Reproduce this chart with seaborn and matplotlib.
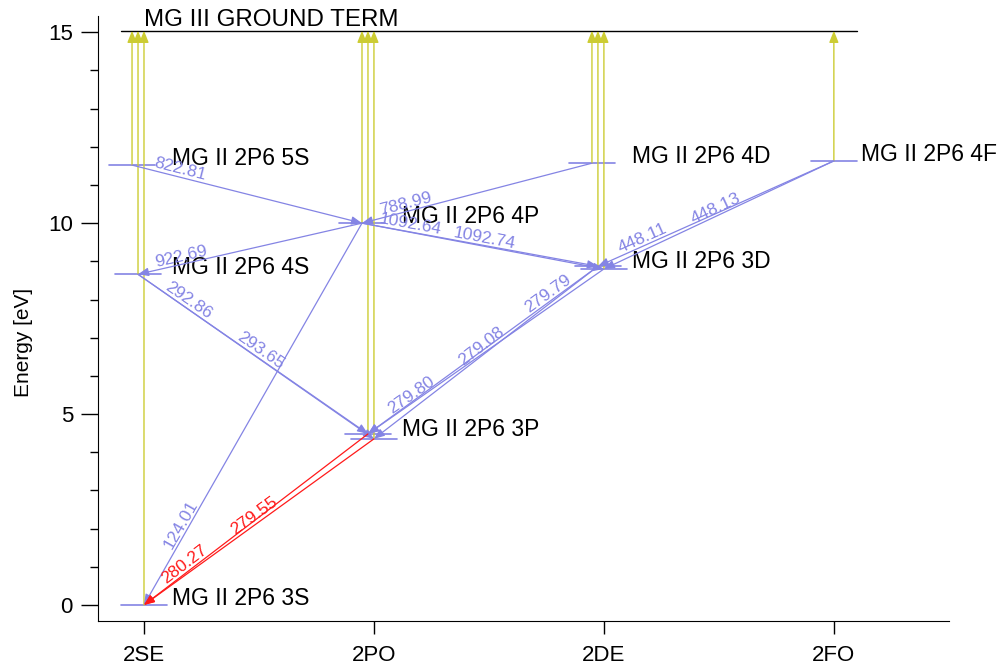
import numpy as np
import pandas as pd
import matplotlib
matplotlib.use("Agg")
import matplotlib.pyplot as plt
from matplotlib.ticker import MultipleLocator
import seaborn as sns

# Term columns of the Mg II Grotrian diagram
terms = ["2SE", "2PO", "2DE", "2FO"]

# Levels: term column, configuration and energy (eV)
level_term = ["2SE", "2SE", "2SE", "2PO", "2PO", "2PO", "2DE", "2DE", "2DE", "2FO"]
level_config = ["3S", "4S", "5S", "3P", "3P", "4P", "3D", "3D", "4D", "4F"]
level_energy = [0.00, 8.66, 11.52, 4.35, 4.48, 10.00, 8.80, 8.87, 11.57, 11.63]

# Ionisation limit (Mg III ground term)
ion_energy = 15.04
ion_label = "MG III GROUND TERM"

# Radiative transitions: upper level index, lower level index, wavelength (nm)
trans_upper = [2, 8, 5, 5, 5, 1, 1, 5, 4, 3, 6, 7, 7, 9, 9]
trans_lower = [5, 5, 7, 6, 1, 4, 3, 0, 0, 0, 4, 3, 4, 7, 6]
trans_wave = ["822.81", "788.99", "1092.64", "1092.74", "922.69",
              "292.86", "293.65", "124.01", "280.27", "279.55",
              "279.80", "279.08", "279.79", "448.11", "448.13"]
# Resonance lines shown in red
trans_resonance = [False, False, False, False, False, False, False, False,
                   True, True, False, False, False, False, False]

BLUE = "#8484e4"
RED = "#ff1a1a"
YELLOW = "#cccc33"

sns.set_style("ticks", {"axes.edgecolor": "black", "text.color": "black",
                        "axes.labelcolor": "black", "xtick.color": "black",
                        "ytick.color": "black"})
plt.rcParams["font.family"] = ["Liberation Sans", "DejaVu Sans"]

fig = plt.figure(figsize=(10.01, 6.72), dpi=100)
ax = fig.add_axes([0.0979, 0.0759, 0.850, 0.900])
ax.set_xlim(-0.2, 3.5)
ax.set_ylim(-0.42, 15.42)

# Sublevels sharing a column are staggered slightly to the left
col_index = [terms.index(t) for t in level_term]
rank = []
seen = {}
for c in col_index:
    rank.append(seen.get(c, 0))
    seen[c] = seen.get(c, 0) + 1
level_x = [c - 0.026 * r for c, r in zip(col_index, rank)]

half = 0.1
lv = pd.DataFrame({
    "x": [x + s for x in level_x for s in (-half, half)],
    "E": [e for e in level_energy for _ in (0, 1)],
    "lvl": [i for i in range(len(level_energy)) for _ in (0, 1)],
})
sns.lineplot(data=lv, x="x", y="E", units="lvl", estimator=None, sort=False,
             color=BLUE, lw=1.2, ax=ax, legend=False)

# Ionisation limit line and label
ax.plot([-half, len(terms) - 1 + half], [ion_energy, ion_energy], color="black", lw=1.0)
ax.text(0, ion_energy, ion_label, ha="left", va="bottom", fontsize=17.4)

# Ionisation arrows from every level up to the limit
for x, e in zip(level_x, level_energy):
    ax.annotate("", xy=(x, ion_energy), xytext=(x, e),
                arrowprops=dict(arrowstyle="-|>,head_length=0.5,head_width=0.2",
                                color=YELLOW, lw=1.0, shrinkA=0, shrinkB=0,
                                mutation_scale=14))

# Level labels (one per configuration)
done = set()
for i, (t, cfg) in enumerate(zip(level_term, level_config)):
    key = (t, cfg)
    if key in done:
        continue
    done.add(key)
    es = [level_energy[j] for j in range(len(level_energy))
          if level_term[j] == t and level_config[j] == cfg]
    ax.text(terms.index(t) + 0.12, float(np.mean(es)), f"MG II 2P6 {cfg}",
            ha="left", va="baseline", fontsize=16.5)

# Transition arrows with wavelength labels along each line
group_count = {}
for u, l, w, res in zip(trans_upper, trans_lower, trans_wave, trans_resonance):
    c = RED if res else BLUE
    xu, eu = level_x[u], level_energy[u]
    xl, el = level_x[l], level_energy[l]
    ax.annotate("", xy=(xl, el), xytext=(xu, eu),
                arrowprops=dict(arrowstyle="-|>,head_length=0.45,head_width=0.18",
                                color=c, lw=0.9, shrinkA=0, shrinkB=0,
                                mutation_scale=14))
    g = (level_config[u], level_config[l])
    k = group_count.get(g, 0)
    group_count[g] = k + 1
    (xa, ea), (xb, eb) = sorted([(xu, eu), (xl, el)])
    t = 0.2 + 0.3 * k
    xm, em = xa + t * (xb - xa), ea + t * (eb - ea)
    pa = ax.transData.transform((xa, ea))
    pb = ax.transData.transform((xb, eb))
    ang = np.degrees(np.arctan2(pb[1] - pa[1], pb[0] - pa[0]))
    ax.text(xm, em, w, rotation=ang, rotation_mode="anchor",
            ha="center", va="bottom", color=c, fontsize=12.5)

ax.set_xticks(range(len(terms)))
ax.set_xticklabels(terms)
ax.yaxis.set_major_locator(MultipleLocator(5))
ax.yaxis.set_minor_locator(MultipleLocator(1))
ax.tick_params(axis="y", which="major", length=12, width=1, pad=6, labelsize=16,
               color="black", labelcolor="black")
ax.tick_params(axis="y", which="minor", length=6, width=1, color="black")
ax.tick_params(axis="x", which="major", length=9, width=1, pad=8, labelsize=16,
               color="black", labelcolor="black")
ax.set_xlabel("")
ax.set_ylabel("Energy [eV]", fontsize=15, color="black")
ax.yaxis.set_label_coords(-0.076, 0.461)
sns.despine(ax=ax)

fig.savefig("out.png", dpi=100)
